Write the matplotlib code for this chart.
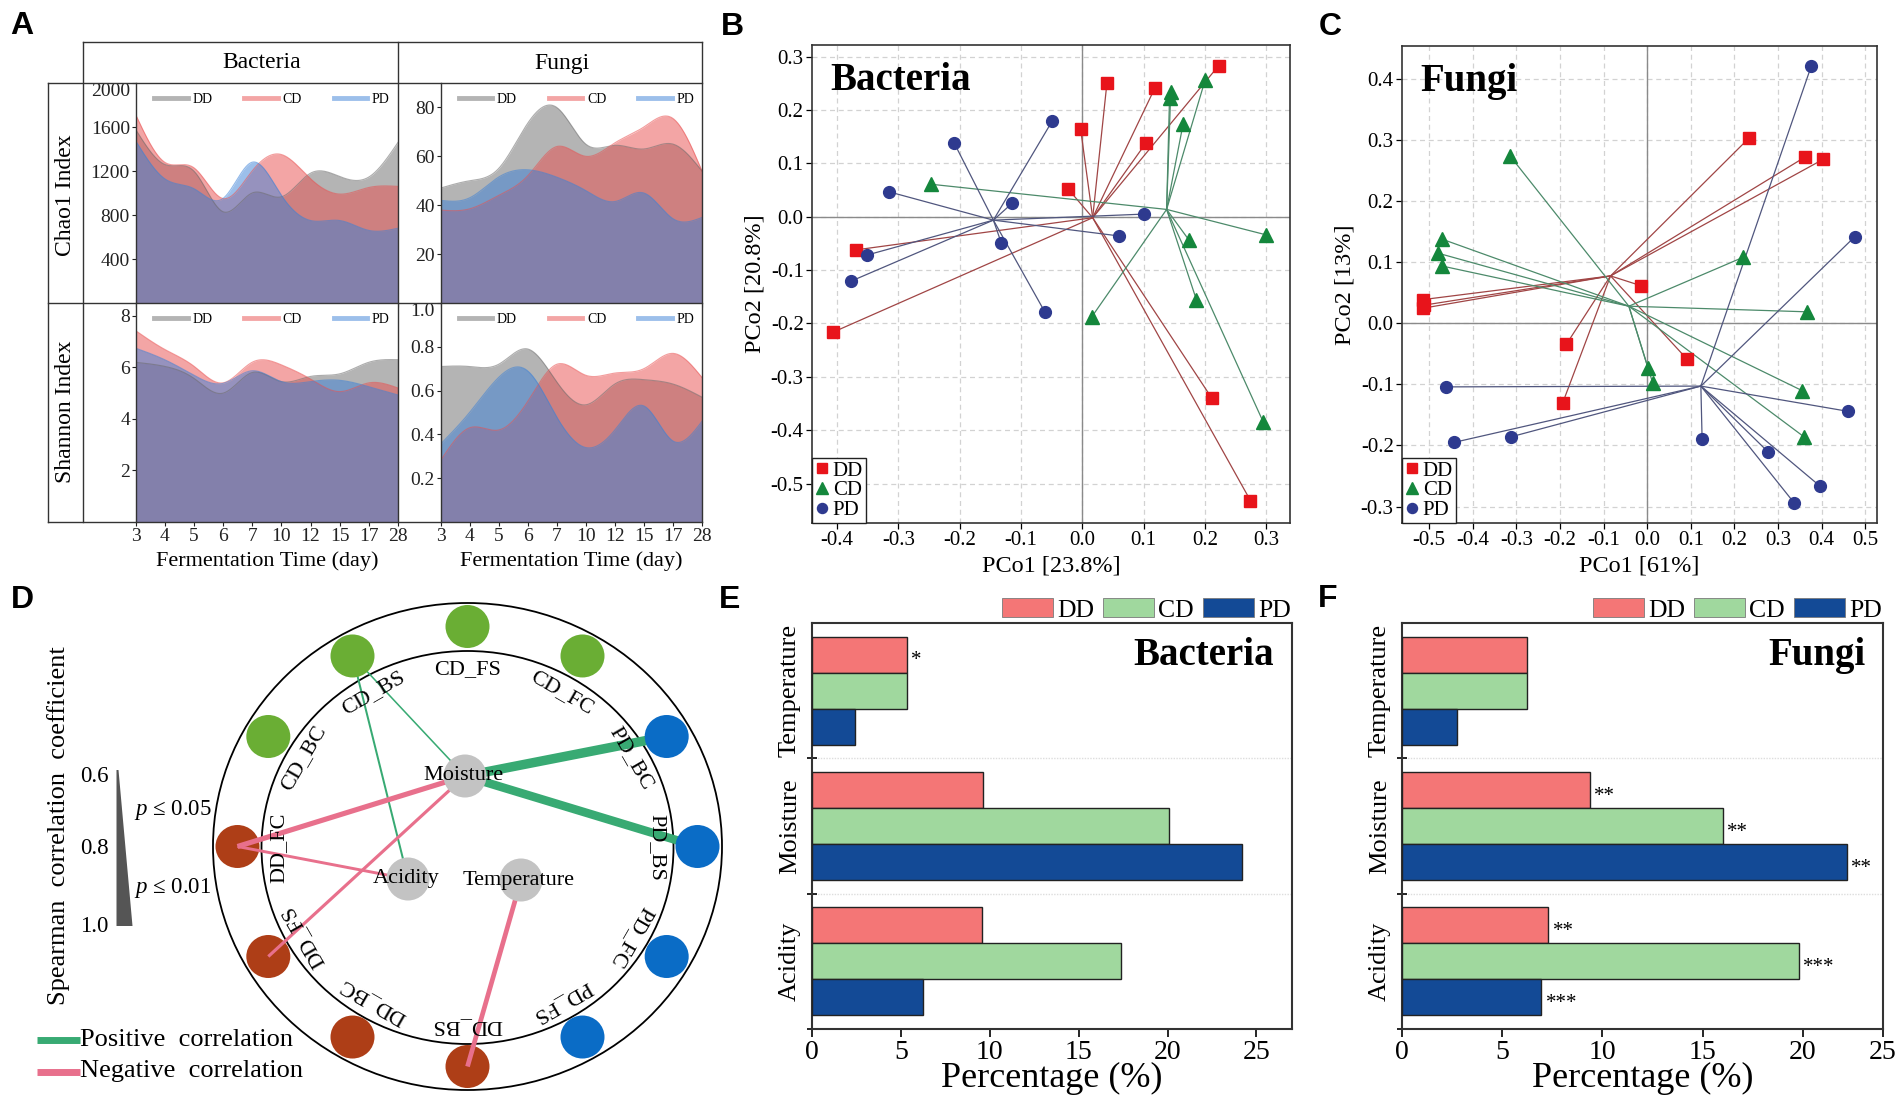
import numpy as np
import matplotlib
matplotlib.use('Agg')
import matplotlib.pyplot as plt
from matplotlib.patches import Ellipse, Polygon, Patch
from matplotlib.lines import Line2D

plt.rcParams['font.family'] = ['Liberation Serif', 'DejaVu Serif']
plt.rcParams['axes.unicode_minus'] = False
plt.rcParams['mathtext.fontset'] = 'custom'
plt.rcParams['mathtext.rm'] = 'Liberation Serif'
plt.rcParams['mathtext.it'] = 'Liberation Serif:italic'

# ---------------- DATA ----------------
days = ['3', '4', '5', '6', '7', '10', '12', '15', '17', '28']
groups = ['DD', 'CD', 'PD']

chao_bac_DD = [1580, 1260, 1200, 830, 1000, 965, 1180, 1150, 1145, 1460]
chao_bac_CD = [1716, 1280, 1230, 950, 1200, 1350, 1130, 990, 1050, 1060]
chao_bac_PD = [1477, 1130, 1040, 950, 1280, 980, 750, 750, 660, 680]

chao_fun_DD = [47, 50, 55, 73.5, 80, 65, 64.5, 63, 65, 54]
chao_fun_CD = [38, 38.5, 44, 52, 64, 60, 65.5, 72, 75.5, 54]
chao_fun_PD = [42, 43, 51.5, 54.5, 51.5, 46, 41.5, 45, 34.5, 35]

shan_bac_DD = [6.2, 6.04, 5.58, 5.0, 5.8, 5.45, 5.65, 5.75, 6.2, 6.3]
shan_bac_CD = [7.43, 6.7, 6.05, 5.4, 6.2, 6.1, 5.55, 5.06, 5.4, 5.2]
shan_bac_PD = [6.75, 6.3, 5.7, 5.38, 5.87, 5.45, 5.45, 5.5, 5.25, 4.93]

shan_fun_DD = [0.71, 0.71, 0.72, 0.79, 0.64, 0.535, 0.63, 0.65, 0.63, 0.57]
shan_fun_CD = [0.28, 0.43, 0.42, 0.55, 0.72, 0.67, 0.68, 0.70, 0.77, 0.66]
shan_fun_PD = [0.355, 0.50, 0.66, 0.69, 0.48, 0.34, 0.42, 0.53, 0.37, 0.46]

# PCoA bacteria
bac_DD_x = [-0.369, -0.406, -0.024, -0.003, 0.040, 0.118, 0.104, 0.222, 0.211, 0.274]
bac_DD_y = [-0.062, -0.216, 0.053, 0.165, 0.251, 0.241, 0.139, 0.283, -0.340, -0.532]
bac_CD_x = [-0.247, 0.015, 0.142, 0.144, 0.164, 0.200, 0.174, 0.186, 0.300, 0.295]
bac_CD_y = [0.061, -0.188, 0.222, 0.233, 0.173, 0.256, -0.044, -0.156, -0.034, -0.385]
bac_PD_x = [-0.316, -0.209, -0.049, -0.115, -0.132, -0.061, -0.352, -0.378, 0.100, 0.060]
bac_PD_y = [0.047, 0.138, 0.180, 0.025, -0.050, -0.179, -0.072, -0.121, 0.005, -0.036]

# PCoA fungi
fun_DD_x = [-0.514, -0.513, -0.511, -0.194, -0.185, -0.015, 0.092, 0.234, 0.363, 0.404]
fun_DD_y = [0.039, 0.025, 0.030, -0.131, -0.034, 0.062, -0.059, 0.304, 0.273, 0.269]
fun_CD_x = [-0.470, -0.479, -0.470, -0.315, 0.002, 0.013, 0.219, 0.366, 0.355, 0.360]
fun_CD_y = [0.138, 0.115, 0.094, 0.275, -0.073, -0.098, 0.108, 0.019, -0.110, -0.186]
fun_PD_x = [-0.462, -0.443, -0.313, 0.126, 0.278, 0.337, 0.397, 0.460, 0.476, 0.376]
fun_PD_y = [-0.104, -0.195, -0.186, -0.189, -0.211, -0.294, -0.267, -0.144, 0.142, 0.421]

# network (panel D)
ring_nodes = ['CD_FS', 'CD_FC', 'PD_BC', 'PD_BS', 'PD_FC', 'PD_FS',
              'DD_BS', 'DD_BC', 'DD_FS', 'DD_FC', 'CD_BC', 'CD_BS']
env_nodes = ['Moisture', 'Acidity', 'Temperature']
edge_src = ['Moisture', 'Acidity', 'Moisture', 'Moisture', 'Moisture', 'Acidity', 'Moisture', 'Temperature']
edge_dst = ['CD_BS', 'CD_BS', 'PD_BC', 'PD_BS', 'DD_FC', 'DD_FC', 'DD_FS', 'DD_BS']
edge_rho = [0.62, 0.64, 0.97, 0.93, 0.78, 0.68, 0.69, 0.76]
edge_sign = [1, 1, 1, 1, -1, -1, -1, -1]

# explained variance (panels E, F)
factors = ['Temperature', 'Moisture', 'Acidity']
varE_DD = [5.34, 9.6, 9.55]
varE_CD = [5.34, 20.1, 17.36]
varE_PD = [2.43, 24.2, 6.26]
varF_DD = [6.23, 9.38, 7.3]
varF_CD = [6.23, 16.0, 19.8]
varF_PD = [2.75, 22.2, 6.95]
sigE_DD = ['*', '', '']
sigE_CD = ['', '', '']
sigE_PD = ['', '', '']
sigF_DD = ['', '**', '**']
sigF_CD = ['', '**', '***']
sigF_PD = ['', '**', '***']

# ---------------- FIGURE ----------------
W, H = 1904, 1117
fig = plt.figure(figsize=(W / 100, H / 100), dpi=100)


def rect(l, t, r, b):
    return [l / W, 1 - b / H, (r - l) / W, (b - t) / H]


def spline(yp, n=400):
    yp = np.asarray(yp, float)
    xp = np.arange(len(yp), dtype=float)
    m = len(xp)
    h = np.diff(xp)
    A = np.zeros((m, m))
    rhs = np.zeros(m)
    A[0, 0] = 1
    A[-1, -1] = 1
    for i in range(1, m - 1):
        A[i, i - 1] = h[i - 1]
        A[i, i] = 2 * (h[i - 1] + h[i])
        A[i, i + 1] = h[i]
        rhs[i] = 3 * ((yp[i + 1] - yp[i]) / h[i] - (yp[i] - yp[i - 1]) / h[i - 1])
    c = np.linalg.solve(A, rhs)
    b = (yp[1:] - yp[:-1]) / h - h * (2 * c[:-1] + c[1:]) / 3
    d = (c[1:] - c[:-1]) / (3 * h)
    xs = np.linspace(xp[0], xp[-1], n)
    idx = np.clip(np.searchsorted(xp, xs, side='right') - 1, 0, m - 2)
    dx = xs - xp[idx]
    ys = yp[idx] + b[idx] * dx + c[idx] * dx ** 2 + d[idx] * dx ** 3
    return xs, ys


area_cols = ['#6A6A6A', '#E94D4D', '#3A80D7']
FRAME = '#333333'


def area_panel(rc, series, ylim, yticks, ylabels, bottom):
    ax = fig.add_axes(rect(*rc))
    for s, c in zip(series, area_cols):
        xs, ys = spline(s)
        ax.fill_between(xs, 0, ys, color=c, alpha=0.5, lw=0)
        ax.plot(xs, ys, color=c, alpha=0.55, lw=0.8)
    ax.set_xlim(0, len(days) - 1)
    ax.set_ylim(*ylim)
    ax.set_yticks(yticks)
    ax.set_yticklabels(ylabels, fontsize=14)
    if yticks[-1] >= ylim[1]:
        ax.get_yticklabels()[-1].set_va('top')
    ax.set_xticks(range(len(days)))
    if bottom:
        ax.set_xticklabels(days, fontsize=14)
    else:
        ax.set_xticklabels([])
        ax.tick_params(axis='x', length=0)
    ax.tick_params(direction='out', length=3, width=0.8, pad=1, colors='#222')
    for sp in ['top', 'right', 'bottom']:
        ax.spines[sp].set_visible(False)
    ax.spines['left'].set_color(FRAME)
    ax.spines['left'].set_linewidth(1.0)
    hs = [Line2D([0], [0], color=c, alpha=0.5, lw=3.5) for c in area_cols]
    ax.legend(hs, groups, loc='upper center', ncol=3, frameon=False, fontsize=10,
              handlelength=2.4, columnspacing=2.3, handletextpad=0.35,
              bbox_to_anchor=(0.52, 1.0), borderaxespad=0.3)
    return ax


area_panel((135.5, 83, 398, 303), [chao_bac_DD, chao_bac_CD, chao_bac_PD],
           (0, 2000), [400, 800, 1200, 1600, 2000], ['400', '800', '1200', '1600', '2000'], False)
area_panel((440.5, 83, 702, 303), [chao_fun_DD, chao_fun_CD, chao_fun_PD],
           (0, 90), [20, 40, 60, 80], ['20', '40', '60', '80'], False)
a3 = area_panel((135.5, 303, 398, 522), [shan_bac_DD, shan_bac_CD, shan_bac_PD],
                (0, 8.5), [2, 4, 6, 8], ['2', '4', '6', '8'], True)
a4 = area_panel((440.5, 303, 702, 522), [shan_fun_DD, shan_fun_CD, shan_fun_PD],
                (0, 1.0), [0.2, 0.4, 0.6, 0.8, 1.0], ['0.2', '0.4', '0.6', '0.8', '1.0'], True)
for a in (a3, a4):
    a.set_xlabel('Fermentation Time (day)', fontsize=16, labelpad=5)

# ---------------- PCoA panels ----------------
mk_cols = ['#E8141B', '#14873C', '#2E3A8F']
ln_cols = ['#A04545', '#4C8A6A', '#50567E']
markers = ['s', '^', 'o']
msizes = [8, 10, 8.5]


def pcoa_panel(rc, xs_list, ys_list, xlim, ylim, xt, yt, xlabel, ylabel, title):
    ax = fig.add_axes(rect(*rc))
    ax.set_xlim(*xlim)
    ax.set_ylim(*ylim)
    ax.set_xticks(xt)
    ax.set_yticks(yt)
    ax.set_xticklabels(['%.1f' % v for v in xt], fontsize=15)
    ax.set_yticklabels(['%.1f' % v for v in yt], fontsize=15)
    ax.grid(True, color='#D2D2D2', lw=0.9, ls=(0, (4, 3)))
    ax.set_axisbelow(True)
    ax.axhline(0, color='#8A8A8A', lw=1.0, zorder=1)
    ax.axvline(0, color='#8A8A8A', lw=1.0, zorder=1)
    hs = []
    for gx, gy, mc, lc, m, ms in zip(xs_list, ys_list, mk_cols, ln_cols, markers, msizes):
        cx, cy = np.mean(gx), np.mean(gy)
        for px, py in zip(gx, gy):
            ax.plot([cx, px], [cy, py], color=lc, lw=0.9, zorder=2)
    for gx, gy, mc, lc, m, ms in zip(xs_list, ys_list, mk_cols, ln_cols, markers, msizes):
        ax.plot(gx, gy, ls='none', marker=m, ms=ms, color=mc, mec=mc, zorder=3)
        hs.append(Line2D([0], [0], ls='none', marker=m, ms=ms * 0.85, color=mc))
    leg = ax.legend(hs, groups, loc='lower left', borderaxespad=0, fontsize=15,
                    handlelength=0.7, handletextpad=0.15, labelspacing=0.0, borderpad=0.15,
                    fancybox=False, edgecolor='#222', framealpha=1)
    leg.get_frame().set_linewidth(1.0)
    for sp in ax.spines.values():
        sp.set_color(FRAME)
        sp.set_linewidth(1.2)
    ax.tick_params(direction='out', length=4, width=0.9, pad=2)
    ax.set_xlabel(xlabel, fontsize=17.5, labelpad=4)
    ax.set_ylabel(ylabel, fontsize=17.5, labelpad=4)
    ax.text(0.038, 0.925, title, transform=ax.transAxes, fontsize=28, fontweight='bold',
            ha='left', va='center')
    return ax


pcoa_panel((812, 45, 1290, 523), [bac_DD_x, bac_CD_x, bac_PD_x], [bac_DD_y, bac_CD_y, bac_PD_y],
           (-0.441, 0.3385), (-0.574, 0.322),
           [-0.4, -0.3, -0.2, -0.1, 0.0, 0.1, 0.2, 0.3],
           [-0.5, -0.4, -0.3, -0.2, -0.1, 0.0, 0.1, 0.2, 0.3],
           'PCo1 [23.8%]', 'PCo2 [20.8%]', 'Bacteria')
pcoa_panel((1402, 46, 1877, 523), [fun_DD_x, fun_CD_x, fun_PD_x], [fun_DD_y, fun_CD_y, fun_PD_y],
           (-0.562, 0.527), (-0.327, 0.4545),
           [-0.5, -0.4, -0.3, -0.2, -0.1, 0.0, 0.1, 0.2, 0.3, 0.4, 0.5],
           [-0.3, -0.2, -0.1, 0.0, 0.1, 0.2, 0.3, 0.4],
           'PCo1 [61%]', 'PCo2 [13%]', 'Fungi')

# ---------------- bar panels ----------------
bar_cols = ['#F47676', '#A0D89E', '#134A96']


def bar_panel(rc, vals, sigs, xlim, xt, xtl, title):
    ax = fig.add_axes(rect(*rc))
    bh = 0.2667
    for j, (v, s, c) in enumerate(zip(vals, sigs, bar_cols)):
        ys = [i + 0.1 + bh * (j + 0.5) for i in range(len(factors))]
        ax.barh(ys, v, height=bh, color=c, edgecolor='#222222', lw=1.0, zorder=3)
        for yy, vv, ss in zip(ys, v, s):
            if ss:
                ax.text(vv + 0.22, yy + 0.045, ss, fontsize=15, ha='left', va='center', zorder=4)
    ax.set_ylim(len(factors), 0)
    ax.set_xlim(*xlim)
    ax.set_yticks([i + 0.5 for i in range(len(factors))])
    ax.set_yticklabels(factors, rotation=90, va='center', fontsize=19)
    ax.set_yticks(range(1, len(factors) + 1), minor=True)
    ax.tick_params(axis='y', which='major', length=0, pad=8)
    ax.tick_params(axis='y', which='minor', length=7, width=1.2, direction='inout')
    for yb in range(1, len(factors)):
        ax.axhline(yb, color='#DDDDDD', lw=1.0, ls=(0, (1, 1)), zorder=1)
    ax.set_xticks(xt)
    ax.set_xticklabels(xtl, fontsize=20)
    ax.tick_params(axis='x', direction='out', length=6, width=1.2, pad=2)
    for sp in ax.spines.values():
        sp.set_color(FRAME)
        sp.set_linewidth(1.5)
    ax.set_xlabel('Percentage (%)', fontsize=26, labelpad=-2)
    ax.text(0.963, 0.921, title, transform=ax.transAxes, fontsize=28, fontweight='bold',
            ha='right', va='center')
    hs = [Patch(facecolor=c, edgecolor='#7A7A7A', lw=0.6) for c in bar_cols]
    ax.legend(hs, groups, loc='lower right', bbox_to_anchor=(1.0, 1.0), ncol=3, frameon=False,
              fontsize=18.5, handlelength=2.0, handleheight=0.75, columnspacing=0.35,
              handletextpad=0.15, borderaxespad=0.05, borderpad=0.0)
    return ax


bar_panel((812, 623, 1292, 1029), [varE_DD, varE_CD, varE_PD], [sigE_DD, sigE_CD, sigE_PD],
          (0, 27), [0, 5, 10, 15, 20, 25], ['0', '5', '10', '15', '20', '25'], 'Bacteria')
bar_panel((1402, 623, 1883, 1029), [varF_DD, varF_CD, varF_PD], [sigF_DD, sigF_CD, sigF_PD],
          (0, 24), [0, 5, 10, 15, 20, 24], ['0', '5', '10', '15', '20', '25'], 'Fungi')

# ---------------- overlay (frames, panel D, letters) ----------------
ov = fig.add_axes([0, 0, 1, 1])
ov.set_xlim(0, W)
ov.set_ylim(H, 0)
ov.axis('off')
ov.patch.set_visible(False)

# panel A frame grid
frame_lines = [((83, 42), (702, 42)), ((48, 83), (702, 83)), ((48, 303), (702, 303)),
               ((48, 522), (702, 522)), ((48, 83), (48, 522)), ((83, 42), (83, 522)),
               ((398, 42), (398, 522)), ((702, 42), (702, 522))]
for (x0, y0), (x1, y1) in frame_lines:
    ov.plot([x0, x1], [y0, y1], color=FRAME, lw=1.0, solid_capstyle='projecting')
ov.text(262, 63, 'Bacteria', fontsize=17, ha='center', va='center')
ov.text(562, 63, 'Fungi', fontsize=17, ha='center', va='center')
ov.text(65.5, 195, 'Chao1 Index', fontsize=17, rotation=90, ha='center', va='center')
ov.text(65.5, 412, 'Shannon Index', fontsize=17, rotation=90, ha='center', va='center')

# panel D network
cx0, cy0 = 467.5, 846.5
ov.add_patch(Ellipse((cx0, cy0), 509, 487, fill=False, ec='black', lw=1.3))
ov.add_patch(Ellipse((cx0, cy0 + 1), 412, 393, fill=False, ec='black', lw=1.3))
node_col = {'CD': '#6AAE34', 'PD': '#0A6CC6', 'DD': '#AE3E17'}
pos = {}
for k, name in enumerate(ring_nodes):
    th = np.deg2rad(90 - 30 * k)
    px, py = cx0 + 230 * np.cos(th), cy0 - 220 * np.sin(th)
    pos[name] = (px, py)
    ov.add_patch(Ellipse((px, py), 44, 43, color=node_col[name[:2]], zorder=4, lw=0))
    lx, ly = cx0 + 189 * np.cos(th), cy0 + 1 - 178 * np.sin(th)
    ov.text(lx, ly, name, fontsize=16, rotation=np.rad2deg(th) - 90, rotation_mode='anchor',
            ha='center', va='center', zorder=6)
env_pos = {'Moisture': (465, 776), 'Acidity': (408, 879), 'Temperature': (521, 880)}
for name in env_nodes:
    ov.add_patch(Ellipse(env_pos[name], 43, 43, color='#C3C3C3', zorder=5, lw=0))
    ov.text(env_pos[name][0] - 2, env_pos[name][1], name, fontsize=16, ha='center',
            va='center', zorder=6)
for s, d, r, sg in zip(edge_src, edge_dst, edge_rho, edge_sign):
    lw = 0.8 + (r - 0.6) / 0.4 * 6.5
    x0, y0 = env_pos[s]
    x1, y1 = pos[d]
    ov.plot([x0, x1], [y0, y1], color='#38AA73' if sg > 0 else '#E8708C', lw=lw,
            zorder=3 if sg > 0 else 4.5, solid_capstyle='butt')

# correlation legend
ov.add_patch(Polygon([(116.5, 770), (118.5, 770), (132.5, 926), (116.5, 926)],
                     closed=True, color='#555555', lw=0))
for lab, yy in zip(['0.6', '0.8', '1.0'], [777, 848, 926]):
    ov.text(94.5, yy, lab, fontsize=16.5, ha='center', va='center')
ov.text(173, 810, r'$p$ ≤ 0.05', fontsize=16.5, ha='center', va='center')
ov.text(173, 888, r'$p$ ≤ 0.01', fontsize=16.5, ha='center', va='center')
ov.text(59, 826, 'Spearman  correlation  coefficient', fontsize=19, rotation=90,
        ha='center', va='center')
ov.plot([37, 80], [1040, 1040], color='#38AA73', lw=5, solid_capstyle='butt')
ov.plot([37, 80], [1071.5, 1071.5], color='#E8708C', lw=5, solid_capstyle='butt')
ov.text(80, 1040, 'Positive  correlation', fontsize=19, ha='left', va='center')
ov.text(80, 1071.5, 'Negative  correlation', fontsize=19, ha='left', va='center')

# panel letters
for lab, (lx, ly) in zip('ABCDEF', [(22, 26), (732, 27), (1330, 27), (22, 600), (730, 600), (1328, 599)]):
    ov.text(lx, ly, lab, fontsize=23, fontweight='bold', family=['Liberation Sans', 'DejaVu Sans'],
            ha='center', va='center')

fig.savefig('out.png', dpi=100)
